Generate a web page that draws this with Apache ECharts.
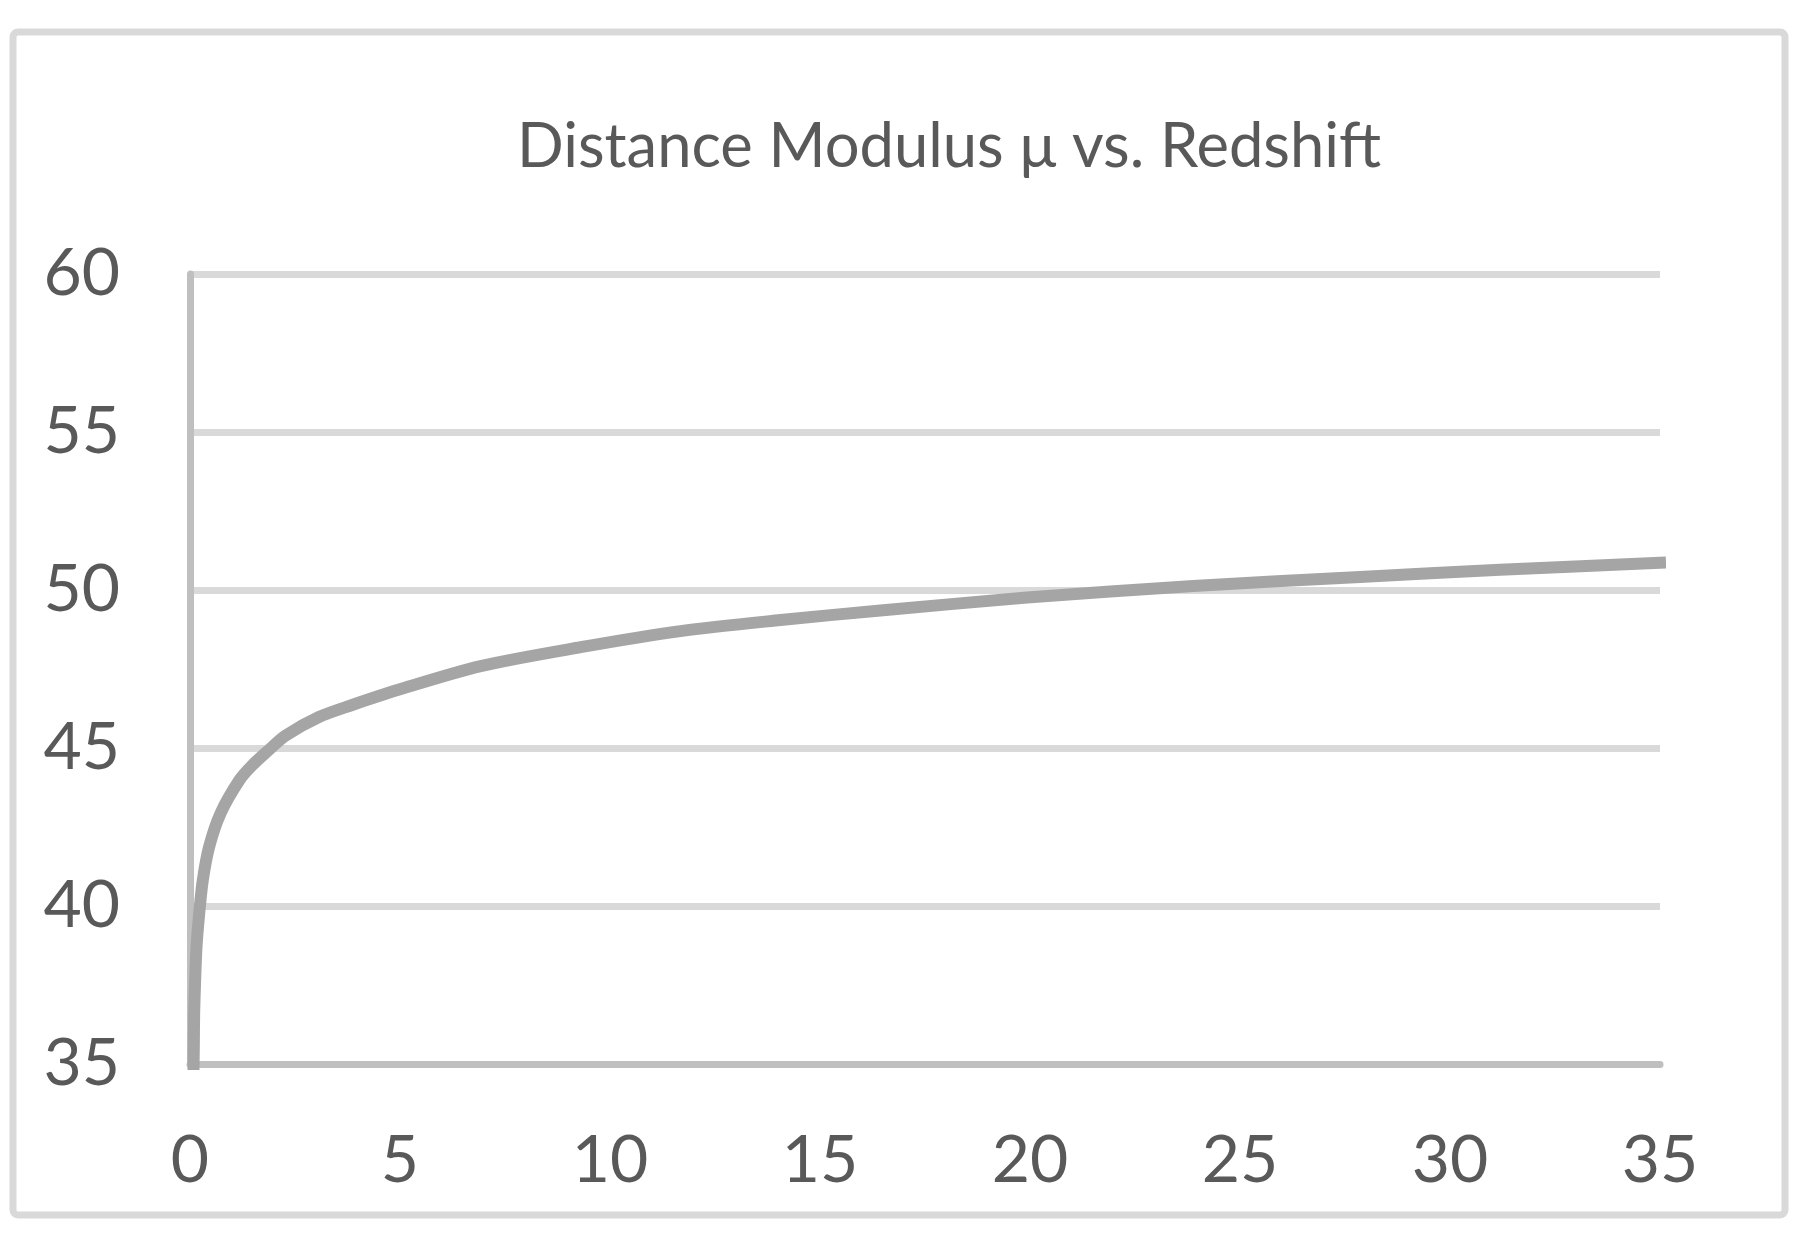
<!DOCTYPE html>
<html>
<head>
<meta charset="utf-8">
<script src="https://cdn.jsdelivr.net/npm/echarts@6/dist/echarts.min.js"></script>
<style>
html,body{margin:0;padding:0;background:#fff;}
#chart{width:1810px;height:1235px;}
</style>
</head>
<body>
<div id="chart"></div>
<script>
const chartTitle = 'Distance Modulus μ vs. Redshift';
const redshift = [0.085, 0.091, 0.099, 0.123, 0.155, 0.22, 0.305, 0.457, 0.726, 1.18, 1.48, 1.88, 2.27, 3.07, 3.86, 4.96, 6.92, 9.30, 11.68, 14.06, 16.44, 19.93, 23.89, 27.86, 31.19, 35];
const distanceModulus = [35.0, 35.55, 36.6, 37.66, 38.71, 39.77, 40.82, 41.88, 42.93, 43.99, 44.45, 44.94, 45.39, 45.98, 46.36, 46.84, 47.59, 48.19, 48.70, 49.05, 49.35, 49.76, 50.13, 50.41, 50.64, 50.86];
const xRange = [0, 35, 5];
const yRange = [35, 60, 5];

const seriesData = redshift.map((z, i) => [z, distanceModulus[i]]);
const FONT = 'Lato';
const chart = echarts.init(document.getElementById('chart'), null, {renderer: 'canvas'});
chart.setOption({
  backgroundColor: '#ffffff',
  animation: false,
  title: {
    text: chartTitle,
    left: 517,
    top: 116,
    padding: 0,
    textStyle: {fontFamily: FONT, fontSize: 61.5, fontWeight: 'normal', color: '#595959'}
  },
  graphic: [{
    type: 'rect',
    z: -10,
    shape: {x: 13, y: 32, width: 1772, height: 1183, r: 5},
    style: {fill: 'none', stroke: '#d9d9d9', lineWidth: 7}
  }],
  grid: {left: 190, right: 150, top: 274, bottom: 171, containLabel: false},
  xAxis: {
    type: 'value',
    min: xRange[0], max: xRange[1], interval: xRange[2],
    axisLine: {show: true, lineStyle: {color: '#bfbfbf', width: 7}},
    axisTick: {show: false},
    splitLine: {show: false},
    axisLabel: {fontFamily: FONT, fontSize: 66, color: '#595959', margin: 64}
  },
  yAxis: {
    type: 'value',
    min: yRange[0], max: yRange[1], interval: yRange[2],
    axisLine: {show: true, lineStyle: {color: '#bfbfbf', width: 7}},
    axisTick: {show: false},
    splitLine: {show: true, showMinLine: false, lineStyle: {color: '#d9d9d9', width: 7}},
    axisLabel: {fontFamily: FONT, fontSize: 66, color: '#595959', margin: 70}
  },
  series: [{
    type: 'line',
    data: seriesData,
    showSymbol: false,
    symbol: 'none',
    smooth: 0.3,
    clip: false,
    lineStyle: {color: '#a5a5a5', width: 12, cap: 'square', join: 'round'},
    z: 5
  }]
});
</script>
</body>
</html>
